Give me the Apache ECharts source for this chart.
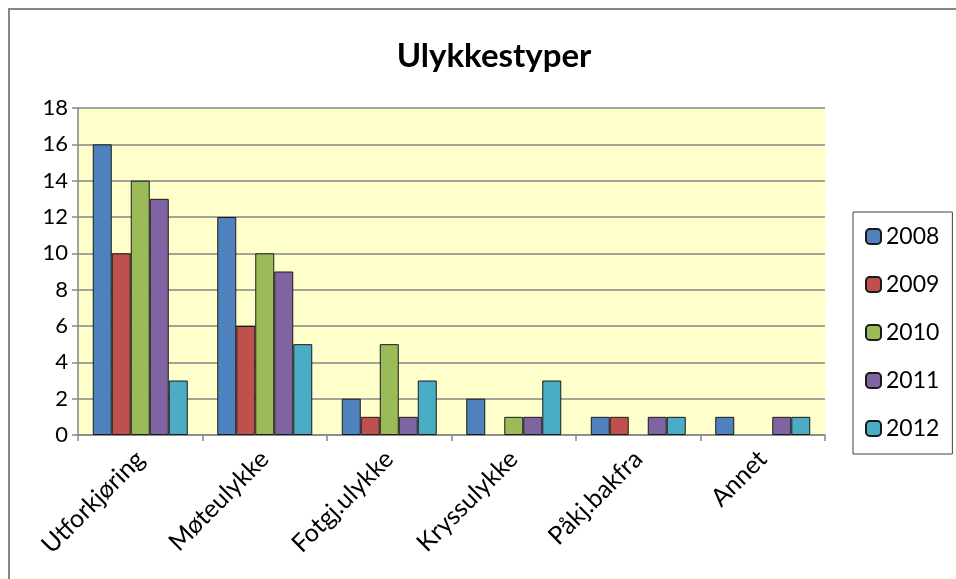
<!DOCTYPE html>
<html>
<head>
<meta charset="utf-8">
<style>
html, body { margin: 0; padding: 0; background: #fff; }
#main { width: 956px; height: 579px; }
</style>
<script src="https://cdn.jsdelivr.net/npm/echarts@6/dist/echarts.min.js"></script>
</head>
<body>
<div id="main"></div>
<script>
// ulykkestyper per år
var categories = ['Utforkjøring', 'Møteulykke', 'Fotgj.ulykke', 'Kryssulykke', 'Påkj.bakfra', 'Annet'];
var years = ['2008', '2009', '2010', '2011', '2012'];
var v2008 = [16, 12, 2, 2, 1, 1];
var v2009 = [10, 6, 1, 0, 1, 0];
var v2010 = [14, 10, 5, 1, 0, 0];
var v2011 = [13, 9, 1, 1, 1, 1];
var v2012 = [3, 5, 3, 3, 1, 1];
var colors = ['#4F81BD', '#C0504D', '#9BBB59', '#8064A2', '#4BACC6'];

var font = 'Lato, "Open Sans", sans-serif';
var values = [v2008, v2009, v2010, v2011, v2012];
var series = [];
for (var i = 0; i < years.length; i++) {
  series.push({
    name: years[i],
    type: 'bar',
    barWidth: 19,
    barGap: '0%',
    // nullverdier tegnes ikke (ingen strek ved 0)
    data: values[i].map(function (v) { return v === 0 ? null : v; }),
    itemStyle: {
      color: colors[i],
      borderColor: '#1a1a1a',
      borderWidth: 1
    }
  });
}

var myChart = echarts.init(document.getElementById('main'));
myChart.setOption({
  animation: false,
  title: {
    text: 'Ulykkestyper',
    left: 489,
    textAlign: 'center',
    top: 35,
    textStyle: { fontFamily: font, fontWeight: 'bold', fontSize: 33, color: '#000' }
  },
  graphic: [{
    type: 'rect',
    shape: { x: 9, y: 9, width: 1100, height: 1100 },
    style: { fill: null, stroke: '#868686', lineWidth: 2 }
  }],
  legend: {
    orient: 'vertical',
    left: 853,
    top: 212,
    padding: [13, 13, 14, 12],
    itemWidth: 15,
    itemHeight: 15,
    itemGap: 25,
    borderColor: '#404040',
    borderWidth: 1,
    textStyle: { fontFamily: font, fontSize: 23, color: '#000' },
    data: years
  },
  grid: {
    left: 78,
    right: 131,
    top: 108,
    bottom: 144,
    show: true,
    backgroundColor: '#FFFFCC',
    borderWidth: 0
  },
  xAxis: {
    type: 'category',
    data: categories,
    axisLine: { lineStyle: { color: '#868686', width: 1.5 } },
    axisTick: { show: true, length: 6, lineStyle: { color: '#868686', width: 1.5 } },
    axisLabel: {
      rotate: 45,
      margin: 20,
      fontFamily: font,
      fontSize: 25,
      color: '#000'
    }
  },
  yAxis: {
    type: 'value',
    min: 0,
    max: 18,
    interval: 2,
    axisLine: { show: true, lineStyle: { color: '#868686', width: 1.5 } },
    axisTick: { show: true, length: 6, lineStyle: { color: '#868686', width: 1.5 } },
    axisLabel: { fontFamily: font, fontSize: 22, color: '#000', margin: 10 },
    splitLine: { lineStyle: { color: '#868686', width: 1.5 } }
  },
  series: series
});
</script>
</body>
</html>
